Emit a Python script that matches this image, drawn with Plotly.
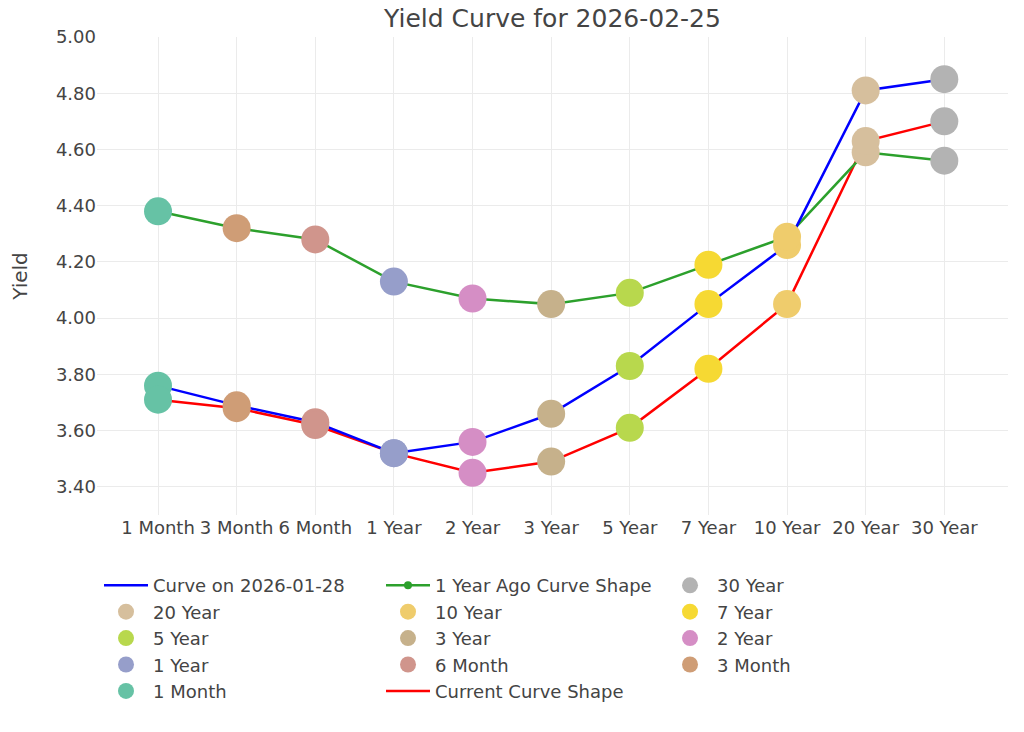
import plotly.graph_objects as go

maturities = ["1 Month", "3 Month", "6 Month", "1 Year", "2 Year", "3 Year",
              "5 Year", "7 Year", "10 Year", "20 Year", "30 Year"]
curve_prev = [3.76, 3.69, 3.63, 3.52, 3.56, 3.66, 3.83, 4.05, 4.26, 4.81, 4.85]
curve_year_ago = [4.38, 4.32, 4.28, 4.13, 4.07, 4.05, 4.09, 4.19, 4.29, 4.59, 4.56]
curve_current = [3.71, 3.68, 3.62, 3.52, 3.45, 3.49, 3.61, 3.82, 4.05, 4.63, 4.70]
maturity_colors = ["#66c2a5", "#cf9d76", "#d0958c", "#969eca", "#d58ec5", "#c6b18b",
                   "#b8d84d", "#f6d933", "#efcc6c", "#d6bf9d", "#b3b3b3"]
y_ticks = [3.4, 3.6, 3.8, 4.0, 4.2, 4.4, 4.6, 4.8, 5.0]

fig = go.Figure()
n = len(maturities)
fig.add_trace(go.Scatter(x=maturities, y=curve_current, mode="lines",
                         name="Current Curve Shape", line=dict(color="#ff0000", width=2.5),
                         legendrank=100 + n + 2))
fig.add_trace(go.Scatter(x=maturities, y=curve_year_ago, mode="lines+markers",
                         name="1 Year Ago Curve Shape", line=dict(color="#2ca02c", width=2.5),
                         marker=dict(size=8, color="#2ca02c"), legendrank=101))
fig.add_trace(go.Scatter(x=maturities, y=curve_prev, mode="lines",
                         name="Curve on 2026-01-28", line=dict(color="#0000ff", width=2.5),
                         legendrank=100))
for i, m in enumerate(maturities):
    fig.add_trace(go.Scatter(x=[m, m, m], y=[curve_prev[i], curve_year_ago[i], curve_current[i]],
                             mode="markers", name=m,
                             marker=dict(size=28, color=maturity_colors[i]),
                             legendrank=102 + (n - 1 - i)))

fig.update_layout(
    width=1016, height=724,
    template="plotly_white",
    font=dict(family="DejaVu Sans", size=18, color="#444"),
    title=dict(text="Yield Curve for 2026-02-25", x=0.5, xanchor="center", xref="paper",
               y=1 - 10 / 724, yanchor="middle", font=dict(size=25)),
    margin=dict(l=89, r=16, t=28.5, b=217),
    xaxis=dict(range=[-0.776, 10.81], showgrid=True, gridcolor="#ebebeb",
               zeroline=False, tickfont=dict(size=18), automargin=False),
    yaxis=dict(title=dict(text="Yield", font=dict(size=20), standoff=26), range=[3.30, 5.0],
               tickvals=y_ticks, ticksuffix="%", tickformat=".2f", automargin=False,
               gridcolor="#ebebeb", zeroline=False, tickfont=dict(size=18)),
    legend=dict(orientation="h", x=0.0022, xanchor="left", y=-0.109, yanchor="top",
                itemwidth=44, entrywidth=223, font=dict(size=18)),
    showlegend=True,
)

fig.write_html("out.html")
